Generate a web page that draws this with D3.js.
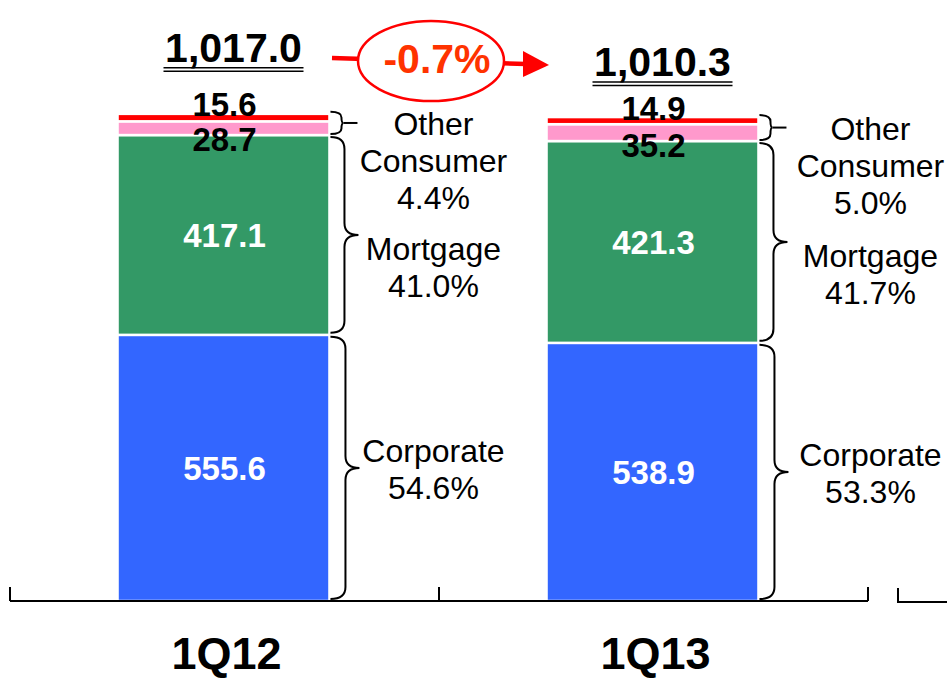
<!DOCTYPE html>
<html>
<head>
<meta charset="utf-8">
<script src="https://cdn.jsdelivr.net/npm/d3@7"></script>
<style>
  html, body { margin: 0; padding: 0; background: #fff; }
  svg { display: block; font-family: Arial, "Liberation Sans", sans-serif; }
</style>
</head>
<body>
<div id="chart"></div>
<script>
const categories = ["1Q12", "1Q13"];
const corporate = [555.6, 538.9];
const mortgage = [417.1, 421.3];
const otherConsumer = [28.7, 35.2];
const other = [15.6, 14.9];
const totals = [1017.0, 1010.3];
const corporateShare = ["54.6%", "53.3%"];
const mortgageShare = ["41.0%", "41.7%"];
const otherShare = ["4.4%", "5.0%"];
const changeLabel = "-0.7%";

const width = 947;
const height = 679;
const baseY = 601;

const colors = {
  corporate: "#3366FF",
  mortgage: "#339966",
  otherConsumer: "#FF99CC",
  other: "#FF0000"
};

const svg = d3.create("svg")
  .attr("viewBox", [0, 0, width, height])
  .attr("width", width)
  .attr("height", height);

const x = d3.scaleBand()
  .domain(categories)
  .range([10, 868])
  .paddingInner(0)
  .paddingOuter(0);

const y = d3.scaleLinear()
  .domain([0, 1100])
  .range([baseY, baseY - 1100 * 0.479]);

const barW = x.bandwidth() * 0.494;

// stack bottom -> top
const rows = categories.map((c, i) => ({
  cat: c,
  corporate: corporate[i],
  mortgage: mortgage[i],
  otherConsumer: otherConsumer[i],
  other: other[i]
}));
const keys = ["corporate", "mortgage", "otherConsumer", "other"];
const series = d3.stack().keys(keys)(rows);

const barX = (c) => x(c) + x.bandwidth() / 2 - barW / 2 - 1;

// Segments
svg.append("g")
  .selectAll("g")
  .data(series)
  .join("g")
  .attr("fill", (s) => colors[s.key])
  .selectAll("rect")
  .data((s) => s)
  .join("rect")
  .attr("x", (d) => barX(d.data.cat))
  .attr("y", (d) => y(d[1]))
  .attr("width", barW)
  .attr("height", (d) => y(d[0]) - y(d[1]))
  .attr("stroke", "#fff")
  .attr("stroke-width", 2.5);

// Axis baseline with category separators
const axis = svg.append("g").attr("stroke", "#000").attr("stroke-width", 2);
const xr = x.range();
axis.append("line")
  .attr("x1", xr[0]).attr("x2", xr[1])
  .attr("y1", baseY).attr("y2", baseY);
const bounds = categories.map((c) => x(c)).concat([xr[1]]);
axis.selectAll("line.tick")
  .data(bounds)
  .join("line")
  .attr("class", "tick")
  .attr("x1", (d) => d).attr("x2", (d) => d)
  .attr("y1", baseY).attr("y2", baseY - 14);
// stub of the next category
axis.append("path")
  .attr("fill", "none")
  .attr("d", `M${xr[1] + 30},${baseY - 13}V${baseY + 1}H${width}`);

// Category labels
svg.append("g")
  .selectAll("text")
  .data(categories)
  .join("text")
  .attr("x", (d) => x(d) + x.bandwidth() / 2 + 2)
  .attr("y", 669)
  .attr("text-anchor", "middle")
  .attr("font-size", 45)
  .attr("font-weight", "bold")
  .text((d) => d);

// Values inside big segments
const bigLabels = [
  ...categories.map((c, i) => ({ c, v: corporate[i], y0: 0, y1: corporate[i] })),
  ...categories.map((c, i) => ({ c, v: mortgage[i], y0: corporate[i], y1: corporate[i] + mortgage[i] }))
];
svg.append("g")
  .selectAll("text")
  .data(bigLabels)
  .join("text")
  .attr("x", (d) => x(d.c) + x.bandwidth() / 2)
  .attr("y", (d) => (y(d.y0) + y(d.y1)) / 2)
  .attr("dy", "0.36em")
  .attr("text-anchor", "middle")
  .attr("font-size", 33)
  .attr("font-weight", "bold")
  .attr("fill", "#fff")
  .text((d) => d3.format(".1f")(d.v));

// Small top values (black, overlapping)
categories.forEach((c, i) => {
  const cx = x(c) + x.bandwidth() / 2;
  const top = y(totals[i]);
  const pinkBottom = y(corporate[i] + mortgage[i]);
  svg.append("text")
    .attr("x", cx).attr("y", top + 2.5)
    .attr("text-anchor", "middle")
    .attr("font-size", 33).attr("font-weight", "bold")
    .text(d3.format(".1f")(other[i]));
  svg.append("text")
    .attr("x", cx).attr("y", pinkBottom + 16)
    .attr("text-anchor", "middle")
    .attr("font-size", 33).attr("font-weight", "bold")
    .text(d3.format(".1f")(otherConsumer[i]));
});

// Curly brace
function brace(x0, y0, y1, w, tip) {
  const ym = (y0 + y1) / 2;
  const r = Math.min(12, (y1 - y0) / 4);
  return `M${x0},${y0}Q${x0 + w},${y0} ${x0 + w},${y0 + r}` +
    `L${x0 + w},${ym - r}Q${x0 + w},${ym} ${x0 + tip},${ym}` +
    `Q${x0 + w},${ym} ${x0 + w},${ym + r}` +
    `L${x0 + w},${y1 - r}Q${x0 + w},${y1} ${x0},${y1}`;
}

const braces = svg.append("g")
  .attr("fill", "none")
  .attr("stroke", "#000")
  .attr("stroke-width", 2);

const labelG = svg.append("g")
  .attr("text-anchor", "middle")
  .attr("font-size", 32);

categories.forEach((c, i) => {
  const bx = barX(c) + barW + 1;
  const lx = bx + 103 + i * 8;
  const corpTop = y(corporate[i]);
  const mortTop = y(corporate[i] + mortgage[i]);
  const top = y(totals[i]);

  // Other consumer (pink + red)
  braces.append("path").attr("d", brace(bx, top - 2, mortTop - 1, 11, 13));
  braces.append("line")
    .attr("x1", bx + 13).attr("x2", bx + 27)
    .attr("y1", (top - 2 + mortTop - 1) / 2).attr("y2", (top - 2 + mortTop - 1) / 2);
  // Mortgage
  braces.append("path").attr("d", brace(bx, mortTop + 2, corpTop - 2, 14, 28));
  // Corporate
  braces.append("path").attr("d", brace(bx, corpTop + 2, baseY - 2, 15, 29));

  const groups = [
    { lines: ["Other", "Consumer", otherShare[i]], y0: (top + mortTop) / 2 + 11 },
    { lines: ["Mortgage", mortgageShare[i]], y0: (mortTop + corpTop) / 2 + 25 },
    { lines: ["Corporate", corporateShare[i]], y0: (corpTop + baseY) / 2 - 6 }
  ];
  groups.forEach((g) => {
    const t = labelG.append("text").attr("x", lx).attr("y", g.y0);
    g.lines.forEach((l, k) => {
      t.append("tspan").attr("x", lx).attr("dy", k === 0 ? 0 : 37).text(l);
    });
  });
});

// Totals with double underline
const totalOffsets = [52, 41];
categories.forEach((c, i) => {
  const cx = x(c) + x.bandwidth() / 2 + 9;
  const ty = y(totals[i]) - totalOffsets[i];
  svg.append("text")
    .attr("x", cx).attr("y", ty)
    .attr("text-anchor", "middle")
    .attr("font-size", 41).attr("font-weight", "bold")
    .text(d3.format(",.1f")(totals[i]));
  const tw = 140;
  [6, 9.5].forEach((off) => {
    svg.append("line")
      .attr("x1", cx - tw / 2).attr("x2", cx + tw / 2)
      .attr("y1", ty + off).attr("y2", ty + off)
      .attr("stroke", "#000").attr("stroke-width", 1.5);
  });
});

// Change arrow with ellipse
const arrowG = svg.append("g");
arrowG.append("line")
  .attr("x1", 332).attr("y1", 58)
  .attr("x2", 526).attr("y2", 64)
  .attr("stroke", "#FF0000").attr("stroke-width", 4.5);
arrowG.append("path")
  .attr("d", "M523,51L549,65L523,77Z")
  .attr("fill", "#FF0000");
arrowG.append("ellipse")
  .attr("cx", 431).attr("cy", 61)
  .attr("rx", 73).attr("ry", 40)
  .attr("fill", "#fff")
  .attr("stroke", "#FF0000").attr("stroke-width", 2.5);
arrowG.append("text")
  .attr("x", 437).attr("y", 73)
  .attr("text-anchor", "middle")
  .attr("font-size", 41).attr("font-weight", "bold")
  .attr("fill", "#FF3300")
  .text(changeLabel);

d3.select("#chart").append(() => svg.node());
</script>
</body>
</html>
